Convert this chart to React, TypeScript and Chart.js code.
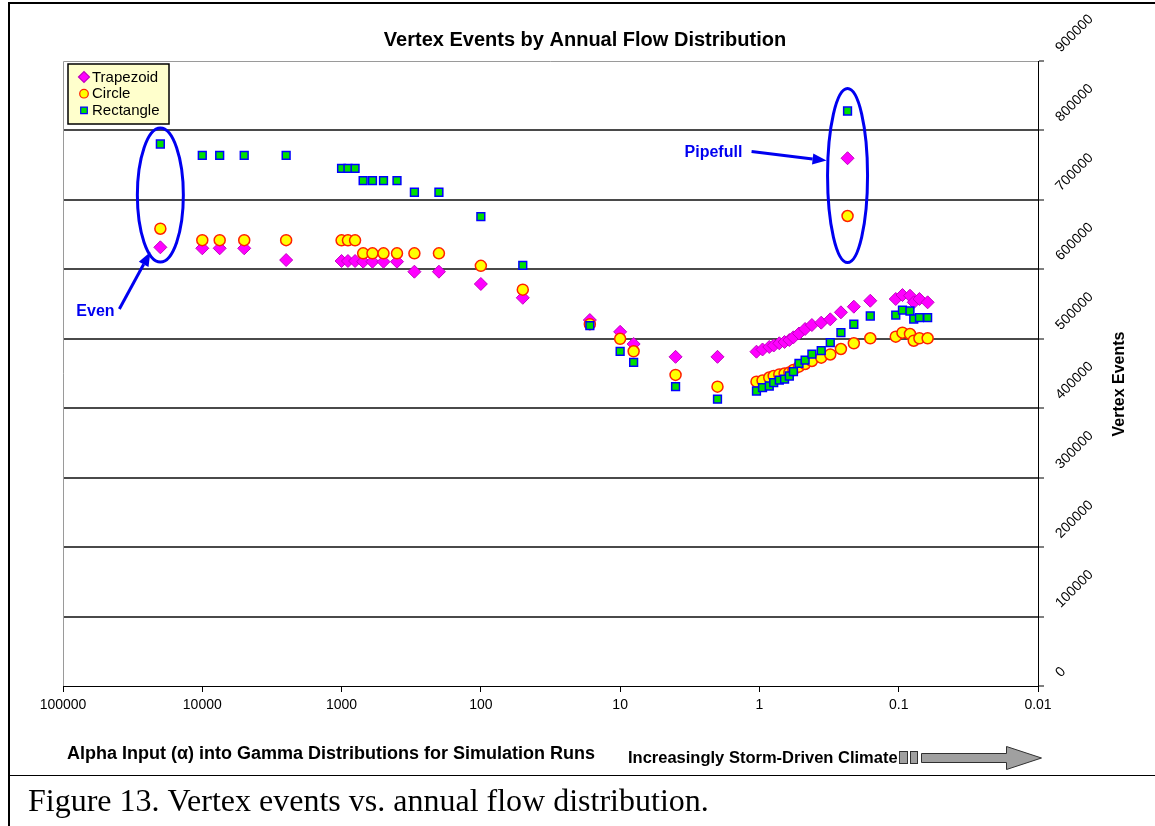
import React, { useEffect, useRef } from 'react';
import { Chart, registerables } from 'chart.js';

Chart.register(...registerables);

const FONT = '"Liberation Sans", Arial, sans-serif';
const SERIF = '"Liberation Serif", "Times New Roman", serif';

const chartTitle = 'Vertex Events by Annual Flow Distribution';
const xAxisTitle = 'Alpha Input (\u03b1) into Gamma Distributions for Simulation Runs';
const yAxisTitle = 'Vertex Events';
const climateNote = 'Increasingly Storm-Driven Climate';
const figureCaption = 'Figure 13. Vertex events vs. annual flow distribution.';

const seriesNames = ['Trapezoid', 'Circle', 'Rectangle'];

const xTickValues = [100000, 10000, 1000, 100, 10, 1, 0.1, 0.01];
const xTickLabels = ['100000', '10000', '1000', '100', '10', '1', '0.1', '0.01'];
const yTickValues = [0, 100000, 200000, 300000, 400000, 500000, 600000, 700000, 800000, 900000];
const yTickLabels = ['0', '100000', '200000', '300000', '400000', '500000', '600000', '700000', '800000', '900000'];

const alphaInputs = [
  20000, 10000, 7500, 5000, 2500, 1000, 900, 800, 700, 600, 500, 400, 300, 200, 100, 50, 16.5, 10, 8, 4, 2,
  1.05, 0.95, 0.85, 0.79, 0.72, 0.66, 0.61, 0.57, 0.52, 0.47, 0.42, 0.36, 0.31, 0.26, 0.21, 0.16, 0.105, 0.094, 0.083, 0.078, 0.071, 0.062,
  0.233,
];

const trapezoidEvents = [
  631700, 630300, 630300, 630300, 613400, 612000, 612000, 612000, 611000, 611000, 611000, 611000, 596600, 596600, 578900, 559000, 527000, 510000, 492500, 474000, 474000,
  481400, 484600, 488200, 490300, 493500, 495400, 498200, 502100, 507600, 514100, 519800, 523200, 528000, 538100, 546200, 554800, 557300, 563000, 562000, 552500, 557300, 552500,
  760000,
];

const circleEvents = [
  658500, 642000, 642000, 642000, 642000, 641800, 641800, 641800, 623000, 623000, 623000, 623000, 623000, 623000, 605000, 570700, 521000, 500000, 482000, 448000, 431000,
  438200, 439900, 444200, 446400, 448600, 450000, 451400, 455000, 459800, 463700, 468000, 472800, 477400, 485300, 493500, 500700, 503000, 508800, 506900, 497200, 500700, 500700,
  676800,
];

const rectangleEvents = [
  780500, 764000, 764000, 764000, 764000, 745500, 745500, 745500, 727600, 727600, 727600, 727600, 711000, 711000, 676000, 605800, 518800, 482000, 466000, 431000, 413000,
  424800, 429600, 432000, 436800, 440600, 442000, 446400, 452600, 464700, 469400, 478000, 482800, 494400, 508800, 520900, 532800, 534200, 541400, 540000, 528500, 530400, 530400,
  828000,
];

// callouts: label, anchor alpha, anchor events
const calloutLabels = ['Even', 'Pipefull'];
const calloutAlpha = [20000, 0.233];
const calloutEvents = [707000, 735000];

function drawArrow(ctx: CanvasRenderingContext2D, x1: number, y1: number, x2: number, y2: number, color: string, width: number, headLen: number, headW: number) {
  const ang = Math.atan2(y2 - y1, x2 - x1);
  const bx = x2 - headLen * Math.cos(ang);
  const by = y2 - headLen * Math.sin(ang);
  ctx.strokeStyle = color;
  ctx.lineWidth = width;
  ctx.beginPath();
  ctx.moveTo(x1, y1);
  ctx.lineTo(bx, by);
  ctx.stroke();
  ctx.fillStyle = color;
  ctx.beginPath();
  ctx.moveTo(x2, y2);
  ctx.lineTo(bx + (headW / 2) * Math.sin(ang), by - (headW / 2) * Math.cos(ang));
  ctx.lineTo(bx - (headW / 2) * Math.sin(ang), by + (headW / 2) * Math.cos(ang));
  ctx.closePath();
  ctx.fill();
}

function legendMarker(ctx: CanvasRenderingContext2D, style: string, x: number, y: number, fill: string, stroke: string) {
  ctx.fillStyle = fill;
  ctx.strokeStyle = stroke;
  ctx.lineWidth = 1.2;
  ctx.beginPath();
  if (style === 'rectRot') {
    ctx.moveTo(x - 5.5, y);
    ctx.lineTo(x, y - 5.5);
    ctx.lineTo(x + 5.5, y);
    ctx.lineTo(x, y + 5.5);
    ctx.closePath();
  } else if (style === 'circle') {
    ctx.arc(x, y, 4.3, 0, Math.PI * 2);
  } else {
    ctx.rect(x - 3.3, y - 3.3, 6.6, 6.6);
  }
  ctx.fill();
  ctx.stroke();
}

const decorPlugin = {
  id: 'figureDecor',
  beforeDatasetsDraw(chart: any) {
    const { ctx, chartArea } = chart;
    ctx.save();
    ctx.strokeStyle = '#9a9a9a';
    ctx.lineWidth = 1;
    ctx.beginPath();
    ctx.moveTo(chartArea.left + 0.5, chartArea.bottom);
    ctx.lineTo(chartArea.left + 0.5, chartArea.top + 0.5);
    ctx.lineTo(chartArea.right, chartArea.top + 0.5);
    ctx.stroke();
    ctx.restore();
  },
  afterDraw(chart: any) {
    const { ctx, chartArea, scales } = chart;
    const xs = scales.x;
    const ys = scales.y;
    const W = chart.width;
    const H = chart.height;
    ctx.save();

    // figure frame
    ctx.fillStyle = '#000';
    ctx.fillRect(8, 2, 2, H);
    ctx.fillRect(8, 2, W, 2);
    ctx.fillRect(8, 775, W, 1);

    // chart title
    ctx.fillStyle = '#000';
    ctx.font = `bold 20px ${FONT}`;
    ctx.textAlign = 'center';
    ctx.textBaseline = 'middle';
    ctx.fillText(chartTitle, 585, 40);

    // y axis title
    ctx.save();
    ctx.translate(1120, 384);
    ctx.rotate(-Math.PI / 2);
    ctx.font = `bold 16px ${FONT}`;
    ctx.fillText(yAxisTitle, 0, 0);
    ctx.restore();

    // x axis title
    ctx.textAlign = 'left';
    ctx.font = `bold 18px ${FONT}`;
    ctx.fillText(xAxisTitle, 67, 754);

    // climate note + arrow
    ctx.font = `bold 16.5px ${FONT}`;
    ctx.fillText(climateNote, 628, 758);
    ctx.fillStyle = '#a0a0a0';
    ctx.strokeStyle = '#303030';
    ctx.lineWidth = 1;
    ctx.fillRect(899.5, 751.5, 8, 12);
    ctx.strokeRect(899.5, 751.5, 8, 12);
    ctx.fillRect(910.5, 751.5, 7, 12);
    ctx.strokeRect(910.5, 751.5, 7, 12);
    ctx.beginPath();
    ctx.moveTo(921.5, 753.5);
    ctx.lineTo(1006.5, 753.5);
    ctx.lineTo(1006.5, 746.5);
    ctx.lineTo(1041.5, 758);
    ctx.lineTo(1006.5, 769.5);
    ctx.lineTo(1006.5, 762.5);
    ctx.lineTo(921.5, 762.5);
    ctx.closePath();
    ctx.fill();
    ctx.stroke();

    // legend
    const lx = chartArea.left + 5;
    const ly = chartArea.top + 3;
    ctx.fillStyle = '#FFFFCC';
    ctx.fillRect(lx, ly, 101, 60);
    ctx.strokeStyle = '#000';
    ctx.lineWidth = 1.5;
    ctx.strokeRect(lx, ly, 101, 60);
    chart.data.datasets.forEach((ds: any, i: number) => {
      const y = ly + 13 + i * 16.7;
      legendMarker(ctx, ds.pointStyle, lx + 16, y, ds.backgroundColor, ds.borderColor);
      ctx.fillStyle = '#000';
      ctx.font = `15px ${FONT}`;
      ctx.textAlign = 'left';
      ctx.textBaseline = 'middle';
      ctx.fillText(ds.label, lx + 24, y + 0.5);
    });

    // callouts
    const blue = '#0000F0';
    const geom = [
      { rx: 23, ry: 67, a: [-41, 114, -10, 57], t: [-84, 117] },
      { rx: 20, ry: 87, a: [-96, -24, -21, -15], t: [-163, -23] },
    ];
    calloutLabels.forEach((label, i) => {
      const cx = xs.getPixelForValue(calloutAlpha[i]);
      const cy = ys.getPixelForValue(calloutEvents[i]);
      const g = geom[i];
      ctx.strokeStyle = blue;
      ctx.lineWidth = 3;
      ctx.beginPath();
      ctx.ellipse(cx, cy, g.rx, g.ry, 0, 0, Math.PI * 2);
      ctx.stroke();
      drawArrow(ctx, cx + g.a[0], cy + g.a[1], cx + g.a[2], cy + g.a[3], blue, 3, 14, 11);
      ctx.fillStyle = blue;
      ctx.font = `bold 16px ${FONT}`;
      ctx.textAlign = 'left';
      ctx.textBaseline = 'middle';
      ctx.fillText(label, cx + g.t[0], cy + g.t[1]);
    });

    // caption
    ctx.fillStyle = '#000';
    ctx.font = `32px ${SERIF}`;
    ctx.textAlign = 'left';
    ctx.textBaseline = 'alphabetic';
    ctx.fillText(figureCaption, 28, 811);

    ctx.restore();
  },
};

export default function App() {
  const ref = useRef<HTMLCanvasElement>(null);
  useEffect(() => {
    const canvas = ref.current;
    if (!canvas) return;
    const mk = (ys: number[]) => alphaInputs.map((x, i) => ({ x, y: ys[i] }));
    const chart = new Chart(canvas, {
      type: 'scatter',
      data: {
        datasets: [
          {
            label: seriesNames[0],
            data: mk(trapezoidEvents),
            pointStyle: 'rectRot',
            pointRadius: 6.5,
            backgroundColor: '#FF00FF',
            borderColor: '#C000C0',
            borderWidth: 1,
            order: 3,
          },
          {
            label: seriesNames[1],
            data: mk(circleEvents),
            pointStyle: 'circle',
            pointRadius: 5.5,
            backgroundColor: '#FFFF00',
            borderColor: '#FF2000',
            borderWidth: 1.5,
            order: 2,
          },
          {
            label: seriesNames[2],
            data: mk(rectangleEvents),
            pointStyle: 'rect',
            pointRadius: 5.5,
            backgroundColor: '#00E000',
            borderColor: '#0000FF',
            borderWidth: 1.5,
            order: 1,
          },
        ] as any,
      },
      options: {
        responsive: false,
        animation: false,
        devicePixelRatio: 1,
        events: [],
        layout: { padding: { left: 63, top: 61, right: 0, bottom: 0 } },
        plugins: {
          legend: { display: false },
          title: { display: false },
          tooltip: { enabled: false },
        },
        scales: {
          x: {
            type: 'logarithmic',
            position: 'bottom',
            reverse: true,
            min: 0.01,
            max: 100000,
            afterBuildTicks: (s: any) => {
              s.ticks = xTickValues.map((v) => ({ value: v }));
            },
            afterFit: (s: any) => {
              s.height = 140;
            },
            ticks: {
              autoSkip: false,
              minRotation: 0,
              maxRotation: 0,
              padding: 5,
              color: '#000',
              font: { family: FONT, size: 14 },
              callback: (_v: any, i: number) => xTickLabels[i],
            },
            grid: { drawOnChartArea: false, drawTicks: true, tickLength: 6, tickColor: '#000', tickWidth: 1 },
            border: { display: true, color: '#000', width: 1 },
          },
          y: {
            type: 'linear',
            position: 'right',
            min: 0,
            max: 900000,
            afterBuildTicks: (s: any) => {
              s.ticks = yTickValues.map((v) => ({ value: v }));
            },
            afterFit: (s: any) => {
              s.width = 117;
            },
            ticks: {
              minRotation: 45,
              maxRotation: 45,
              labelOffset: -11,
              padding: 14,
              color: '#000',
              font: { family: FONT, size: 14 },
              callback: (_v: any, i: number) => yTickLabels[i],
            },
            grid: {
              color: (c: any) =>
                c.tick && (c.tick.value === 900000 || c.tick.value === 0) ? 'rgba(0,0,0,0)' : '#4a4a4a',
              lineWidth: 2,
              drawTicks: true,
              tickLength: 6,
              tickColor: '#000',
              tickWidth: 1,
            },
            border: { display: true, color: '#000', width: 1 },
          },
        },
      } as any,
      plugins: [decorPlugin],
    });
    return () => chart.destroy();
  }, []);

  return (
    <div style={{ position: 'absolute', left: 0, top: 0, width: 1155, height: 826, background: '#fff', overflow: 'hidden' }}>
      <canvas ref={ref} width={1155} height={826} style={{ display: 'block', width: 1155, height: 826 }} />
    </div>
  );
}
